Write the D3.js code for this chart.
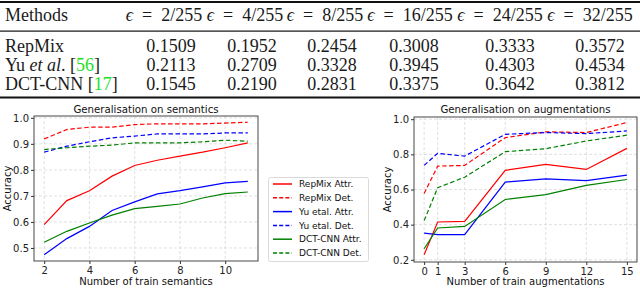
<!DOCTYPE html>
<html lang="en">
<head>
<meta charset="utf-8">
<script src="https://d3js.org/d3.v7.min.js"></script>
<style>
  body { margin: 0; background: #fff; }
  svg { display: block; }
</style>
</head>
<body>
<div id="chart"></div>
<script>
// ---- table data ----
var epsLabels = ["2/255", "4/255", "8/255", "16/255", "24/255", "32/255"];
var tableMethods = ["RepMix", "Yu", "DCT-CNN"];
var repmixRow = ["0.1509", "0.1952", "0.2454", "0.3008", "0.3333", "0.3572"];
var yuRow = ["0.2113", "0.2709", "0.3328", "0.3945", "0.4303", "0.4534"];
var dctRow = ["0.1545", "0.2190", "0.2831", "0.3375", "0.3642", "0.3812"];

// ---- left plot: generalisation on semantics ----
var semX = [2, 3, 4, 5, 6, 7, 8, 9, 10, 11];
var semRepMixAttr = [0.590, 0.682, 0.720, 0.776, 0.817, 0.837, 0.853, 0.868, 0.885, 0.904];
var semRepMixDet = [0.919, 0.955, 0.964, 0.964, 0.974, 0.977, 0.977, 0.977, 0.980, 0.983];
var semYuAttr = [0.474, 0.536, 0.583, 0.644, 0.677, 0.708, 0.720, 0.735, 0.750, 0.756];
var semYuDet = [0.868, 0.891, 0.908, 0.923, 0.930, 0.938, 0.938, 0.938, 0.942, 0.942];
var semDctAttr = [0.522, 0.564, 0.596, 0.626, 0.651, 0.660, 0.669, 0.692, 0.709, 0.715];
var semDctDet = [0.878, 0.885, 0.891, 0.895, 0.904, 0.904, 0.904, 0.908, 0.914, 0.910];
var semXTicks = [2, 4, 6, 8, 10];
var semYTicks = [0.5, 0.6, 0.7, 0.8, 0.9, 1.0];

// ---- right plot: generalisation on augmentations ----
var augX = [0, 1, 3, 6, 9, 12, 15];
var augRepMixAttr = [0.229, 0.415, 0.419, 0.709, 0.743, 0.714, 0.834];
var augRepMixDet = [0.577, 0.733, 0.737, 0.895, 0.928, 0.924, 0.981];
var augYuAttr = [0.352, 0.343, 0.343, 0.642, 0.661, 0.651, 0.682];
var augYuDet = [0.737, 0.806, 0.790, 0.914, 0.924, 0.918, 0.933];
var augDctAttr = [0.263, 0.381, 0.390, 0.543, 0.571, 0.623, 0.657];
var augDctDet = [0.423, 0.610, 0.670, 0.815, 0.832, 0.876, 0.909];
var augXTicks = [0, 1, 3, 6, 9, 12, 15];
var augYTicks = [0.2, 0.4, 0.6, 0.8, 1.0];

var seriesNames = ["RepMix Attr.", "RepMix Det.", "Yu etal. Attr.", "Yu etal. Det.", "DCT-CNN Attr.", "DCT-CNN Det."];
var seriesColors = ["#ff0000", "#ff0000", "#0000ff", "#0000ff", "#008000", "#008000"];
var seriesDashed = [false, true, false, true, false, true];

var W = 640, H = 288;
var SERIF = "Liberation Serif";
var SANS = "DejaVu Sans";
var svg = d3.select("#chart").append("svg").attr("width", W).attr("height", H);

// ================= table =================
var tbl = svg.append("g");
tbl.append("rect").attr("x", 0).attr("y", 1).attr("width", W).attr("height", 2).attr("fill", "#111");
tbl.append("rect").attr("x", 0).attr("y", 30.5).attr("width", W).attr("height", 1.2).attr("fill", "#111");
tbl.append("rect").attr("x", 0).attr("y", 96.5).attr("width", W).attr("height", 2).attr("fill", "#111");

var headCenters = [164, 245, 325, 410, 500, 590];
var valCenters = [171, 252, 332, 414, 510, 600];
var rowBase = [52, 71, 90];

function ttext(x, y) {
  return tbl.append("text").attr("x", x).attr("y", y)
    .style("font-family", SERIF).style("font-size", "18px").attr("fill", "#1a1a1a");
}

ttext(5, 21).text("Methods");
epsLabels.forEach(function(e, i) {
  var t = ttext(headCenters[i], 21).attr("text-anchor", "middle");
  t.append("tspan").style("font-style", "italic").text("\u03f5");
  t.append("tspan").text("\u2002=\u2002" + e);
});

// method names
ttext(5, rowBase[0]).text(tableMethods[0]);
var yu = ttext(5, rowBase[1]);
yu.append("tspan").text(tableMethods[1] + " ");
yu.append("tspan").style("font-style", "italic").text("et al");
yu.append("tspan").text(". [");
yu.append("tspan").attr("fill", "#1fe01f").text("56");
yu.append("tspan").text("]");
var dct = ttext(5, rowBase[2]);
dct.append("tspan").text(tableMethods[2] + " [");
dct.append("tspan").attr("fill", "#1fe01f").text("17");
dct.append("tspan").text("]");

[repmixRow, yuRow, dctRow].forEach(function(row, r) {
  row.forEach(function(v, i) {
    ttext(valCenters[i], rowBase[r]).attr("text-anchor", "middle").text(v);
  });
});

// ================= plots =================
function drawPlot(opts) {
  var g = svg.append("g").style("font-family", SANS);
  var x = d3.scaleLinear().domain(opts.xDomain).range([opts.left, opts.right]);
  var y = d3.scaleLinear().domain(opts.yDomain).range([opts.bottom, opts.top]);

  // grid
  g.selectAll(".gx").data(opts.xTicks).enter().append("line")
    .attr("x1", function(d) { return x(d); }).attr("x2", function(d) { return x(d); })
    .attr("y1", opts.top).attr("y2", opts.bottom)
    .attr("stroke", "#d8d8d8").attr("stroke-width", 0.8).attr("stroke-dasharray", "3,2");
  g.selectAll(".gy").data(opts.yTicks).enter().append("line")
    .attr("x1", opts.left).attr("x2", opts.right)
    .attr("y1", function(d) { return y(d); }).attr("y2", function(d) { return y(d); })
    .attr("stroke", "#d8d8d8").attr("stroke-width", 0.8).attr("stroke-dasharray", "3,2");

  // series
  var line = d3.line().x(function(d) { return x(d[0]); }).y(function(d) { return y(d[1]); });
  opts.series.forEach(function(s, i) {
    g.append("path")
      .attr("d", line(opts.xs.map(function(xv, j) { return [xv, s[j]]; })))
      .attr("fill", "none").attr("stroke", seriesColors[i]).attr("stroke-width", 1.2)
      .attr("stroke-dasharray", seriesDashed[i] ? "4.5,2.5" : null);
  });

  // axes
  var xa = g.append("g").attr("transform", "translate(0," + opts.bottom + ")")
    .call(d3.axisBottom(x).tickValues(opts.xTicks).tickSize(3).tickPadding(3).tickFormat(d3.format("d")));
  var ya = g.append("g").attr("transform", "translate(" + opts.left + ",0)")
    .call(d3.axisLeft(y).tickValues(opts.yTicks).tickSize(3).tickPadding(2).tickFormat(d3.format(".1f")));
  [xa, ya].forEach(function(a) {
    a.select(".domain").remove();
    a.selectAll("line").attr("stroke", "#333");
    a.selectAll("text").attr("fill", "#222").attr("font-family", SANS).attr("font-size", "10px");
  });

  // frame
  g.append("rect").attr("x", opts.left).attr("y", opts.top)
    .attr("width", opts.right - opts.left).attr("height", opts.bottom - opts.top)
    .attr("fill", "none").attr("stroke", "#333").attr("stroke-width", 0.9);

  g.append("text").attr("x", (opts.left + opts.right) / 2).attr("y", 113)
    .attr("text-anchor", "middle").attr("font-size", "10.2px").attr("fill", "#111").text(opts.title);
  g.append("text").attr("x", (opts.left + opts.right) / 2).attr("y", 285)
    .attr("text-anchor", "middle").attr("font-size", "10px").attr("fill", "#111").text(opts.xLabel);
  g.append("text").attr("transform", "translate(" + opts.yLabelX + "," + ((opts.top + opts.bottom) / 2) + ") rotate(-90)")
    .attr("text-anchor", "middle").attr("font-size", "10px").attr("fill", "#111").text("Accuracy");
}

drawPlot({
  left: 34, right: 258, top: 116, bottom: 261,
  xDomain: [1.55, 11.45], yDomain: [0.45, 1.007],
  xs: semX, xTicks: semXTicks, yTicks: semYTicks,
  series: [semRepMixAttr, semRepMixDet, semYuAttr, semYuDet, semDctAttr, semDctDet],
  title: "Generalisation on semantics", xLabel: "Number of train semantics", yLabelX: 11
});

drawPlot({
  left: 414, right: 637, top: 117, bottom: 262,
  xDomain: [-0.75, 15.75], yDomain: [0.1875, 1.0125],
  xs: augX, xTicks: augXTicks, yTicks: augYTicks,
  series: [augRepMixAttr, augRepMixDet, augYuAttr, augYuDet, augDctAttr, augDctDet],
  title: "Generalisation on augmentations", xLabel: "Number of train augmentations", yLabelX: 391
});

// ================= legend =================
var lg = svg.append("g").style("font-family", SANS);
lg.append("rect").attr("x", 268.5).attr("y", 177.5).attr("width", 100).attr("height", 84)
  .attr("rx", 2).attr("fill", "#fff").attr("stroke", "#d0d0d0").attr("stroke-width", 0.8);
var ly = d3.scalePoint().domain(seriesNames).range([184, 253]);
seriesNames.forEach(function(n, i) {
  lg.append("line").attr("x1", 273).attr("x2", 292).attr("y1", ly(n)).attr("y2", ly(n))
    .attr("stroke", seriesColors[i]).attr("stroke-width", 1.5)
    .attr("stroke-dasharray", seriesDashed[i] ? "4,2.2" : null);
  lg.append("text").attr("x", 299).attr("y", ly(n) + 3.2).attr("font-size", "9px").attr("fill", "#111").text(n);
});
</script>
</body>
</html>
